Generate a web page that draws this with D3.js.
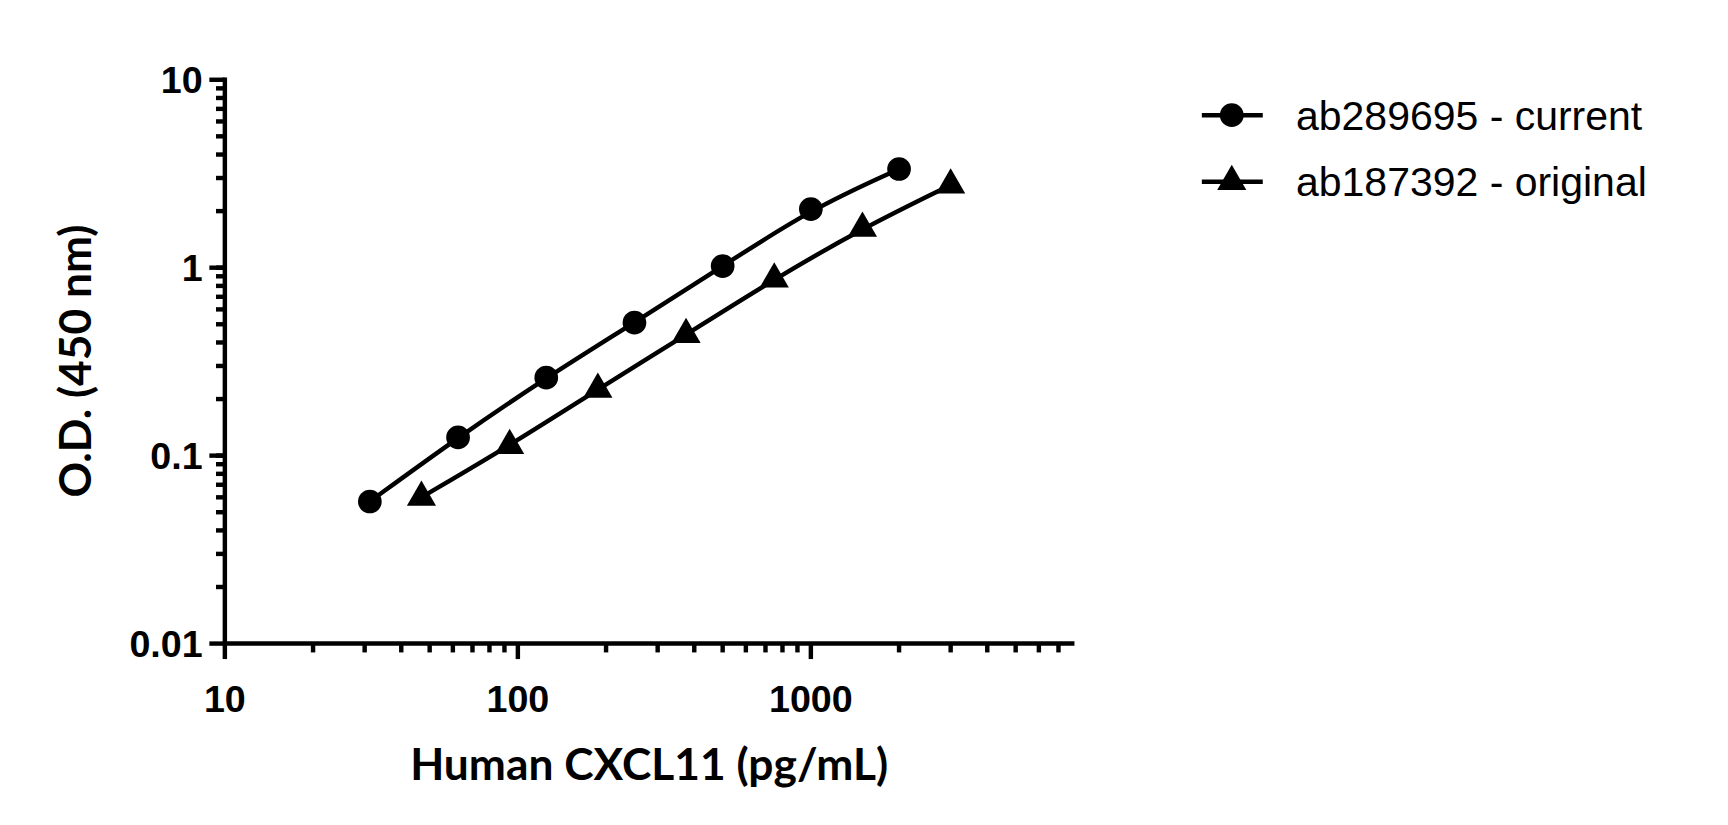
<!DOCTYPE html>
<html><head><meta charset="utf-8">
<script src="https://cdn.jsdelivr.net/npm/d3@7"></script>
<style>body{margin:0;background:#fff}</style>
</head><body>
<svg id="chart" width="1728" height="825"></svg>
<script>
var currentX = [31.25, 62.5, 125, 250, 500, 1000, 2000];
var currentY = [0.057, 0.125, 0.26, 0.51, 1.02, 2.05, 3.35];
var originalX = [46.875, 93.75, 187.5, 375, 750, 1500, 3000];
var originalY = [0.06, 0.113, 0.225, 0.44, 0.87, 1.62, 2.75];
var seriesNames = ["ab289695 - current", "ab187392 - original"];
var xTickLabels = [10, 100, 1000];
var yTickLabels = ["0.01", "0.1", "1", "10"];

// layout worked out on a 1560-wide grid, scaled up to 1728
var svg = d3.select("#chart").append("g").attr("transform", "scale(" + (1728 / 1560) + ")");
var x = d3.scaleLog().domain([10, 7800]).range([203, 968]);
var y = d3.scaleLog().domain([0.01, 10]).range([581, 72]);
var sw = 4;

// x axis
svg.append("line").attr("x1", 201).attr("x2", 970).attr("y1", 581).attr("y2", 581)
    .attr("stroke", "#000").attr("stroke-width", sw);
var xt = [];
for (var d = 10; d <= 1000; d *= 10)
    for (var k = 1; k < 10; k++) if (d * k <= 7800) xt.push(d * k);
xt.forEach(function(v) {
    var major = xTickLabels.indexOf(v) >= 0;
    svg.append("line").attr("x1", x(v)).attr("x2", x(v)).attr("y1", 581).attr("y2", 581 + (major ? 14 : 8))
        .attr("stroke", "#000").attr("stroke-width", sw);
});
xTickLabels.forEach(function(v) {
    svg.append("text").attr("x", x(v)).attr("y", 643).attr("text-anchor", "middle")
        .attr("font-family", "Liberation Sans").attr("font-weight", "bold").attr("font-size", 34).text(v);
});

// y axis
svg.append("line").attr("x1", 203).attr("x2", 203).attr("y1", 70).attr("y2", 583)
    .attr("stroke", "#000").attr("stroke-width", sw);
for (var e = -2; e < 1; e++)
    for (var k = 1; k <= 10; k++) {
        var v = k * Math.pow(10, e);
        var major = k === 1 || (e === 0 && k === 10);
        svg.append("line").attr("x1", 203).attr("x2", 203 - (major ? 14 : 8)).attr("y1", y(v)).attr("y2", y(v))
            .attr("stroke", "#000").attr("stroke-width", sw);
    }
yTickLabels.forEach(function(v) {
    svg.append("text").attr("x", 183).attr("y", y(+v) + 12).attr("text-anchor", "end")
        .attr("font-family", "Liberation Sans").attr("font-weight", "bold").attr("font-size", 34).text(v);
});

// titles
svg.append("text").attr("x", 586).attr("y", 704).attr("text-anchor", "middle")
    .attr("font-family", "Lato").attr("font-weight", "bold").attr("font-size", 40).text("Human CXCL11 (pg/mL)");
svg.append("text").attr("transform", "translate(82,326) rotate(-90)").attr("text-anchor", "middle")
    .attr("font-family", "Lato").attr("font-weight", "bold").attr("font-size", 40).text("O.D. (450 nm)");

// series
var line = d3.line().x(function(d) { return x(d[0]); }).y(function(d) { return y(d[1]); }).curve(d3.curveBasis);
var data = [d3.zip(currentX, currentY), d3.zip(originalX, originalY)];
var sym = [d3.symbol().type(d3.symbolCircle).size(360), d3.symbol().type(d3.symbolTriangle).size(300)];
data.forEach(function(s, i) {
    svg.append("path").attr("d", line(s)).attr("fill", "none").attr("stroke", "#000").attr("stroke-width", sw);
    svg.selectAll(null).data(s).enter().append("path").attr("d", sym[i])
        .attr("transform", function(d) { return "translate(" + x(d[0]) + "," + y(d[1]) + ")"; });
});

// legend
seriesNames.forEach(function(n, i) {
    var ly = 104 + i * 60;
    svg.append("line").attr("x1", 1085).attr("x2", 1140).attr("y1", ly).attr("y2", ly)
        .attr("stroke", "#000").attr("stroke-width", sw);
    svg.append("path").attr("d", sym[i]).attr("transform", "translate(1112," + ly + ")");
    svg.append("text").attr("x", 1170).attr("y", ly + 13).attr("font-family", "Liberation Sans")
        .attr("font-size", 37).text(n);
});
</script>
</body></html>
